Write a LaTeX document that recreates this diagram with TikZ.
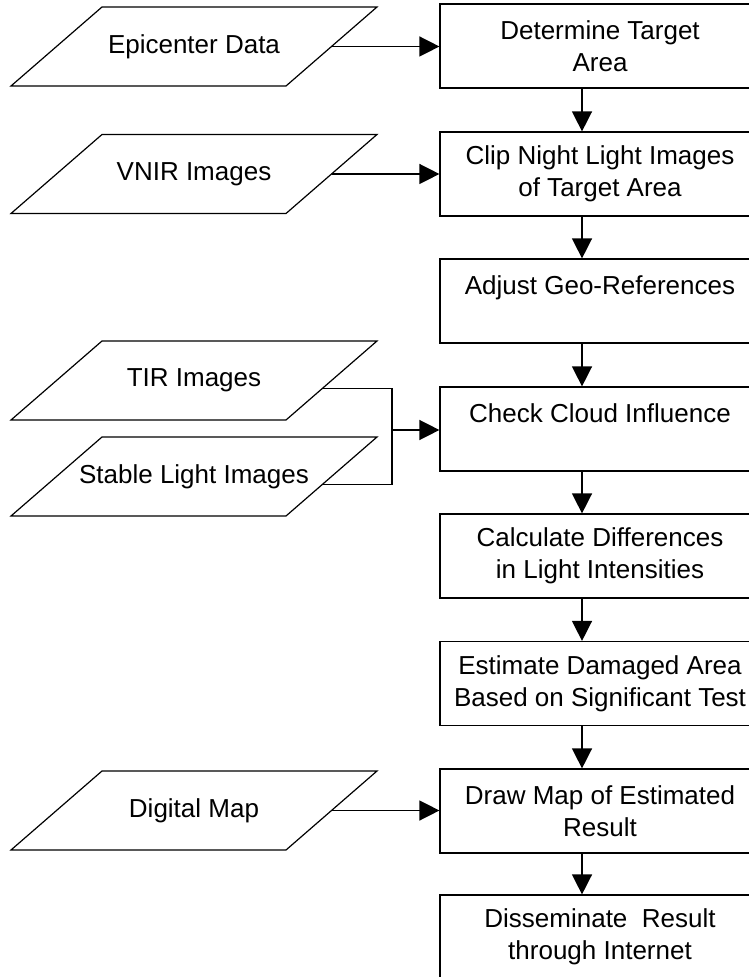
\documentclass[tikz,border=0pt]{standalone}
\usepackage{fontspec}
\setmainfont{Liberation Sans}
\usetikzlibrary{arrows.meta,calc}
\tikzset{>/.tip={Triangle[length=10pt,width=10pt]},
  procbox/.style={draw, line width=0.6pt, minimum width=160pt, minimum height=42pt, align=center, inner sep=0pt},
  databox/.style={minimum width=183pt, minimum height=39.5pt, inner sep=0pt, outer sep=0pt},
  flow/.style={->, line width=0.7pt}}

\begin{document}
\begin{tikzpicture}[x=0.5pt,y=-0.5pt,font=\fontsize{13pt}{16pt}\selectfont]
\useasboundingbox (0,0) rectangle (748,977);
\node[databox] (epi)    at (194,46.5)  {Epicenter Data};
\node[databox] (vnir)   at (194,174)   {VNIR Images};
\node[databox] (tir)    at (194,380.5) {TIR Images};
\node[databox] (stable) at (194,476.5) {Stable Light Images};
\node[databox] (dmap)   at (194,810.5) {Digital Map};
\node[procbox] (target) at (600,46)    {Determine Target\\Area};
\node[procbox] (clip)   at (600,174)   {Clip Night Light Images\\of Target Area};
\node[procbox] (georef) at (600,301)   {Adjust Geo-References\\\mbox{}};
\node[procbox] (cloud)  at (600,429)   {Check Cloud Influence\\\mbox{}};
\node[procbox] (diff)   at (600,556)   {Calculate Differences\\in Light Intensities};
\node[procbox] (damage) at (600,683.5) {Estimate Damaged Area\\Based on Significant Test};
\node[procbox] (mapres) at (600,811)   {Draw Map of Estimated\\Result};
\node[procbox] (dissem) at (600,937)   {Disseminate~ Result\\through Internet};
% slanted outlines of the data nodes
\foreach \n in {epi,vnir,tir,stable,dmap}
{
  \draw[line width=0.6pt] ([xshift=45.5pt]\n.north west) -- (\n.north east)
    -- ([xshift=-45.5pt]\n.south east) -- (\n.south west) -- cycle;
}
\coordinate (join) at (392,430);
\draw[flow] ([xshift=-22.75pt]epi.east) -- (epi.east -| target.west);
\draw[flow] ([xshift=-22.75pt]vnir.east) -- (vnir.east -| clip.west);
\draw[flow] ([xshift=-22.75pt]dmap.east) -- (dmap.east -| mapres.west);
\draw[line width=0.7pt] ($(tir.north east)!0.6!([xshift=-45.5pt]tir.south east)$) -| (join);
\draw[line width=0.7pt] ($(stable.north east)!0.6!([xshift=-45.5pt]stable.south east)$) -| (join);
\draw[flow] (join) -- (join -| cloud.west);
\foreach \a/\b in {target/clip,clip/georef,georef/cloud,cloud/diff,diff/damage,damage/mapres,mapres/dissem}
{
  \draw[flow] ([xshift=-9pt]\a.south) -- ([xshift=-9pt]\b.north);
}
\end{tikzpicture}
\end{document}
